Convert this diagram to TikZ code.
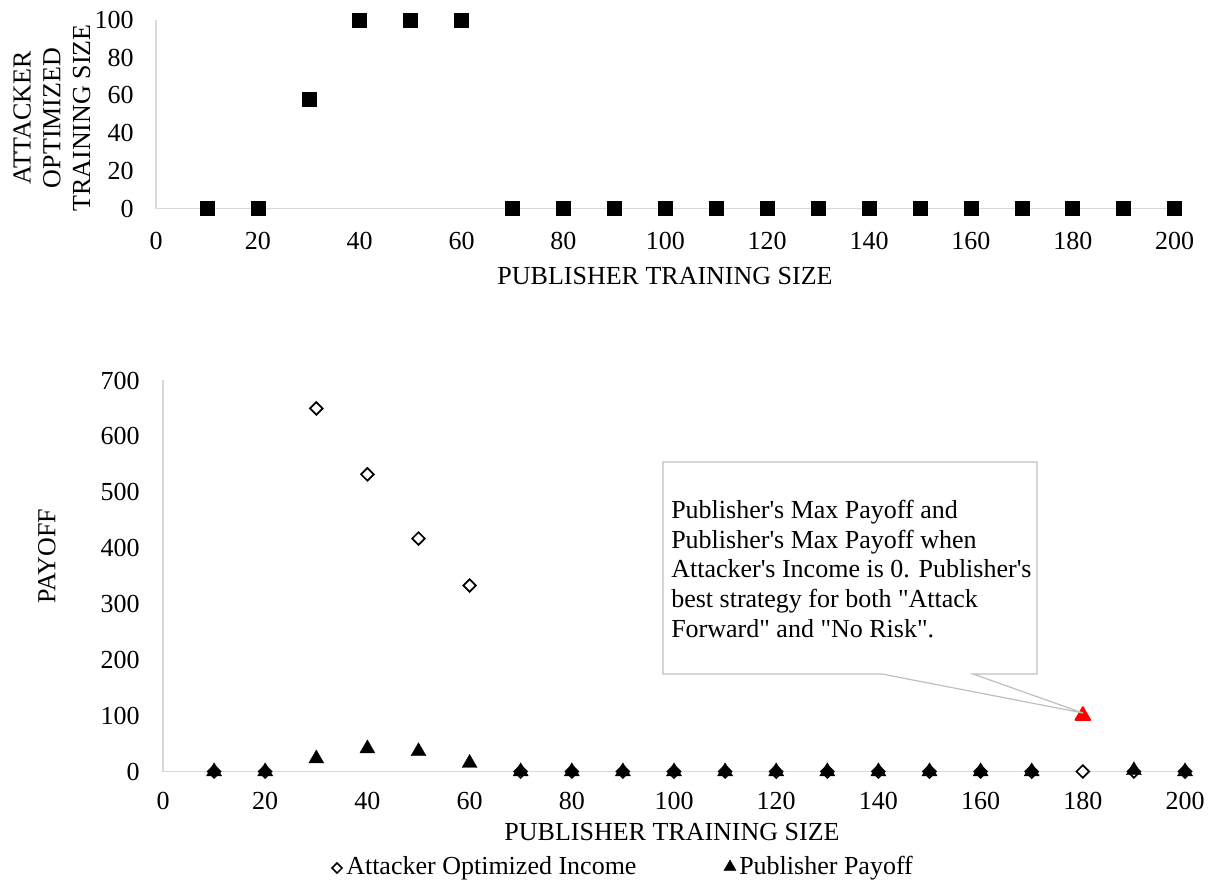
\documentclass[tikz,border=0pt]{standalone}
\usepackage{fontspec}
\setmainfont{Liberation Serif}[Ligatures=TeXOff]
\usetikzlibrary{shapes.geometric}
\definecolor{axisgray}{HTML}{D9D9D9}
\definecolor{boxgray}{HTML}{BFBFBF}
\tikzset{
  lbl/.style={font=\fontsize{19.5}{22.3}\selectfont, inner sep=0pt},
  axisline/.style={draw=axisgray, line width=1.1pt},
  sqmark/.style={draw=black, fill=black, rectangle, minimum size=10.5pt, inner sep=0pt},
  dmmark/.style={draw=black, fill=white, diamond, line width=1.3pt, minimum width=10pt, minimum height=10pt, inner sep=0pt},
  trmark/.style={draw=black, fill=black, regular polygon, regular polygon sides=3, minimum size=13pt, inner sep=0pt, line width=0.3pt},
  redmark/.style={trmark, draw=red, fill=red, line join=round, line width=1.2pt},
  callout/.style={draw=boxgray, fill=white, line width=0.9pt},
}
\begin{document}
\begin{tikzpicture}[x=0.75pt, y=-0.75pt]
\useasboundingbox (0,0) rectangle (1210,885);

% ---------- upper chart: attacker optimized training size ----------
\draw[axisline] (156,20) -- (156,208.5) -- (1175,208.5);
\foreach \v in {0,20,...,100}
  \node[lbl, anchor=east] at (134,{208.5-\v*1.885}) {\v};
\foreach \x in {0,20,...,200}
  \node[lbl] at ({156+\x*5.093},241) {\x};
\node[lbl] (xt1) at (665,276) {PUBLISHER TRAINING SIZE};
\node[lbl, rotate=90, align=center] (yt1) at (52,118)
  {ATTACKER\\OPTIMIZED\\TRAINING SIZE};
\foreach \x/\v in {10/0,20/0,30/58,40/100,50/100,60/100,70/0,80/0,90/0,100/0,
                  110/0,120/0,130/0,140/0,150/0,160/0,170/0,180/0,190/0,200/0}
  \node[sqmark] (s\x) at ({156+\x*5.093},{208.5-\v*1.885}) {};

% ---------- lower chart: payoff ----------
\draw[axisline] (163,380) -- (163,771.5) -- (1185,771.5);
\foreach \v in {0,100,...,700}
  \node[lbl, anchor=east] at (140,{771.5-\v*0.5586}) {\v};
\foreach \x in {0,20,...,200}
  \node[lbl] at ({163+\x*5.11},801) {\x};
\node[lbl] (xt2) at (672,832) {PUBLISHER TRAINING SIZE};
\node[lbl, rotate=90] (yt2) at (47,556) {PAYOFF};

% attacker optimized income
\foreach \x/\v in {10/0,20/0,30/650,40/532,50/417,60/333,70/0,80/0,90/0,100/0,
                  110/0,120/0,130/0,140/0,150/0,160/0,170/0,180/0,190/0,200/0}
  \node[dmmark] (d\x) at ({163+\x*5.11},{771.5-\v*0.5586}) {};
% publisher payoff
\foreach \x/\v in {10/0,20/0,30/23,40/41,50/36,60/15,70/0,80/0,90/0,100/0,
                  110/0,120/0,130/0,140/0,150/0,160/0,170/0,190/2,200/0}
  \node[trmark] (p\x) at ({163+\x*5.11},{771.5-\v*0.5586}) {};
\node[redmark] (p180) at ({163+180*5.11},{771.5-100*0.5586}) {};
\coordinate (tip) at (1083,713);

% callout
\draw[callout] (663,462) -- (1037,462) -- (1037,674) -- (973,674) -- (tip)
  -- (882,674) -- (663,674) -- cycle;
\node[lbl, anchor=west, align=left] (note) at (671,569)
  {Publisher's Max Payoff and\\Publisher's Max Payoff when\\Attacker's Income is 0. Publisher's\\best strategy for both "Attack\\Forward" and "No Risk".};

% legend
\node[dmmark, minimum width=8pt, minimum height=8pt, line width=1.1pt] (lg1) at (337,868) {};
\node[lbl, anchor=west] (lt1) at (346,868) {Attacker Optimized Income};
\node[trmark, minimum size=10.5pt] (lg2) at (730,867) {};
\node[lbl, anchor=west] (lt2) at (739,868) {Publisher Payoff};
\end{tikzpicture}
\end{document}
